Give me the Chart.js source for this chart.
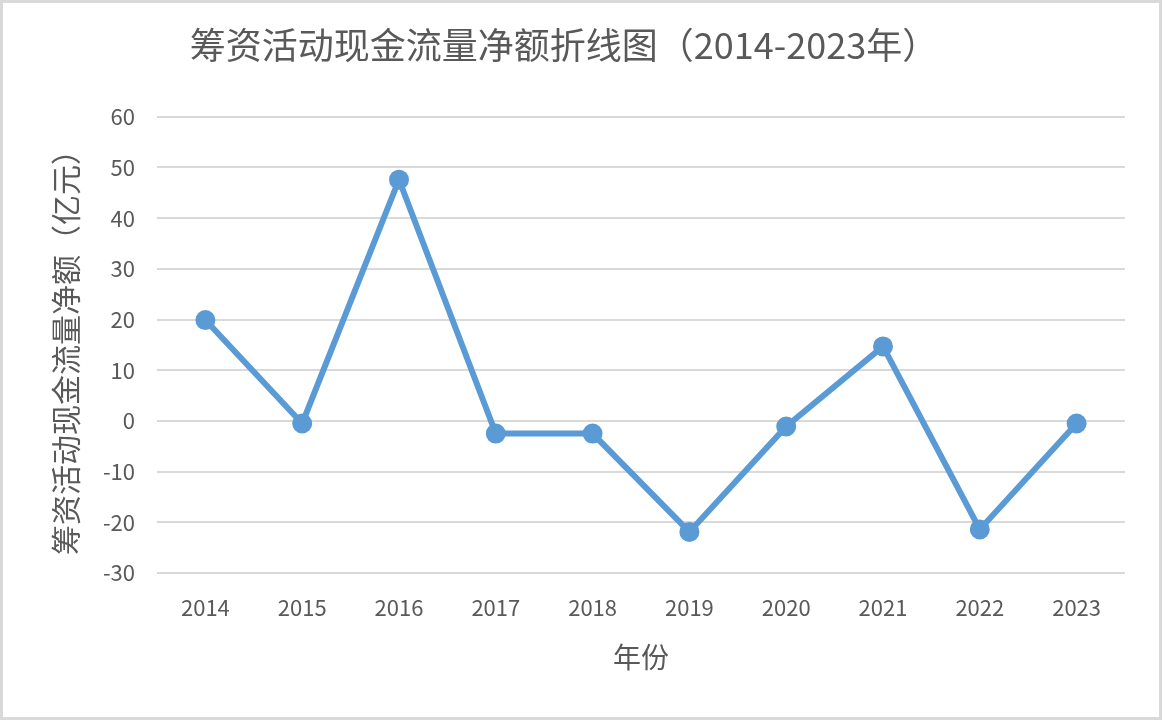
<!DOCTYPE html>
<html lang="zh">
<head>
  <meta charset="UTF-8">
  <title>筹资活动现金流量净额折线图</title>
  <script src="https://cdn.jsdelivr.net/npm/chart.js"></script>
  <style>
    html, body { margin: 0; padding: 0; background: #fff; }
    #wrap {
      width: 1162px; height: 720px; box-sizing: border-box;
      border: 3px solid #d9d9d9; position: relative;
    }
    canvas { display: block; }
  </style>
</head>
<body>
  <div id="wrap"><canvas id="cashChart" width="1156" height="714"></canvas></div>

  <script>
    // 年份和筹资活动现金流量净额（亿元）
    const years = ['2014', '2015', '2016', '2017', '2018', '2019', '2020', '2021', '2022', '2023'];
    const netCash = [19.9, -0.5, 47.6, -2.5, -2.5, -21.9, -1.1, 14.7, -21.4, -0.5];
    const yMin = -30, yMax = 60, yStep = 10;

    const FONT = '"Noto Sans CJK SC", "Noto Sans", sans-serif';
    const GREY = '#595959';

    const ctx = document.getElementById('cashChart').getContext('2d');
    new Chart(ctx, {
      type: 'line',
      data: {
        labels: years,
        datasets: [{
          label: '筹资活动现金流量净额',
          data: netCash,
          borderColor: '#5B9BD5',
          backgroundColor: '#5B9BD5',
          borderWidth: 6,
          pointRadius: 7,
          pointHoverRadius: 7,
          tension: 0
        }]
      },
      options: {
        responsive: false,
        animation: false,
        layout: { padding: { left: 0, right: 34, top: 0, bottom: 0 } },
        plugins: {
          legend: { display: false },
          tooltip: { enabled: false },
          title: {
            display: true,
            text: '筹资活动现金流量净额折线图（2014-2023年）',
            color: GREY,
            font: { family: FONT, size: 36, weight: 'normal' },
            padding: { top: 21, bottom: 49.6 }
          }
        },
        scales: {
          x: {
            offset: true,
            grid: { display: false },
            border: { display: false },
            ticks: { color: GREY, font: { family: FONT, size: 22 }, padding: 13 },
            title: {
              display: true, text: '年份', color: GREY,
              font: { family: FONT, size: 28 }, padding: { top: 8, bottom: 43 }
            },
            afterFit: (s) => { s.height = 144; }
          },
          y: {
            min: yMin, max: yMax,
            grid: { color: '#d9d9d9', lineWidth: 2, drawTicks: false },
            border: { display: false },
            ticks: { stepSize: yStep, color: GREY, font: { family: FONT, size: 22 }, padding: 22 },
            title: {
              display: true, text: '筹资活动现金流量净额（亿元）', color: GREY,
              font: { family: FONT, size: 30 }, padding: { top: 45, bottom: 10 }
            },
            afterFit: (s) => { s.width = 154; }
          }
        }
      }
    });
  </script>
</body>
</html>
